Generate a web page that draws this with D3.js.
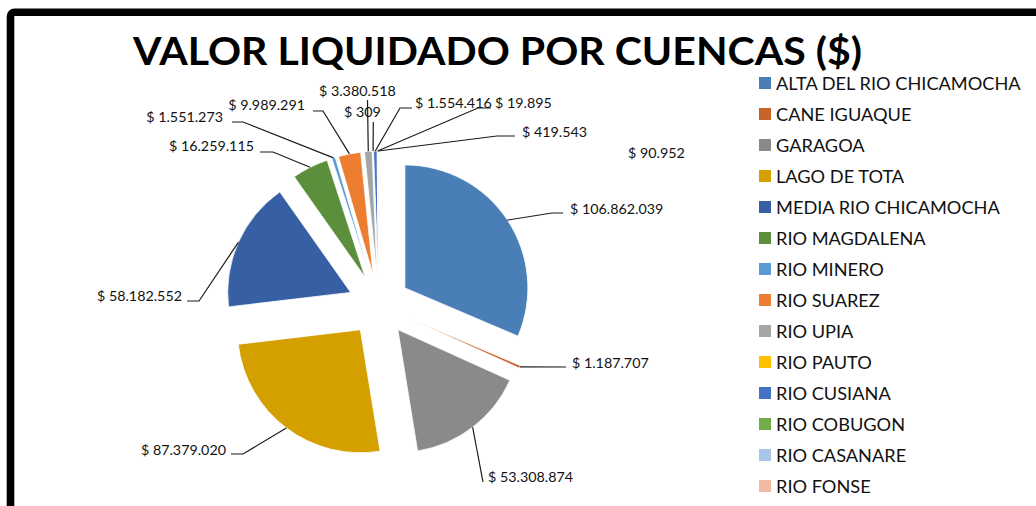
<!DOCTYPE html>
<html>
<head>
<meta charset="utf-8">
<script src="https://cdn.jsdelivr.net/npm/d3@7"></script>
<style>
  html, body { margin: 0; padding: 0; background: #fff; }
  svg { display: block; }
  text { font-family: Lato, "Open Sans", sans-serif; fill: #111; }
</style>
</head>
<body>
<svg id="chart" width="1036" height="506"></svg>
<script>
// ---- DATA ----
const categories = [
  "ALTA DEL RIO CHICAMOCHA", "CANE IGUAQUE", "GARAGOA", "LAGO DE TOTA",
  "MEDIA RIO CHICAMOCHA", "RIO MAGDALENA", "RIO MINERO", "RIO SUAREZ",
  "RIO UPIA", "RIO PAUTO", "RIO CUSIANA", "RIO COBUGON", "RIO CASANARE", "RIO FONSE"
];
const values = [
  106862039, 1187707, 53308874, 87379020,
  58182552, 16259115, 1551273, 9989291,
  3380518, 309, 1554416, 19895, 419543, 90952
];
const valueLabels = [
  "$ 106.862.039", "$ 1.187.707", "$ 53.308.874", "$ 87.379.020",
  "$ 58.182.552", "$ 16.259.115", "$ 1.551.273", "$ 9.989.291",
  "$ 3.380.518", "$ 309", "$ 1.554.416", "$ 19.895", "$ 419.543", "$ 90.952"
];
const title = "VALOR LIQUIDADO POR CUENCAS ($)";

// ---- STYLE / LAYOUT ----
const colors = [
  "#4A7EB6", "#C8642A", "#8A8A8A", "#D4A000",
  "#375FA3", "#5C8F3B", "#5B9BD5", "#ED7D31",
  "#A5A5A5", "#FFC000", "#4472C4", "#70AD47", "#A9C5E8", "#F4B9A2"
];
const cx = 379, cy = 305, R = 123, explode = 31;

// label placement (annotation layout): text anchor x, text mid y, anchor side, leader bend points
const labelLayout = [
  { x: 570, y: 209, a: "start", pts: [[552, 213], [563, 213]] },
  { x: 572, y: 363, a: "start", pts: [[566, 367]] },
  { x: 488, y: 477, a: "start", pts: [[483, 482]] },
  { x: 226, y: 450, a: "end",   pts: [[243, 454], [231, 454]] },
  { x: 182, y: 296, a: "end",   pts: [[199, 301], [187, 301]] },
  { x: 254, y: 146, a: "end",   pts: [[273, 152], [260, 152]] },
  { x: 223, y: 117, a: "end",   pts: [[243, 122], [232, 122]] },
  { x: 305, y: 105, a: "end",   pts: [[323, 111], [313, 111]] },
  { x: 319, y: 91,  a: "start", pts: [[367.5, 100]] },
  { x: 344, y: 112, a: "start", pts: [[373.3, 122]] },
  { x: 415, y: 103, a: "start", pts: [[400, 108], [412, 108]] },
  { x: 495, y: 103, a: "start", pts: [[478, 108], [491, 108]] },
  { x: 522, y: 132, a: "start", pts: [[497, 136], [515, 136]] },
  { x: 628, y: 153, a: "start", pts: [] }
];

const svg = d3.select("#chart");

// frame
svg.append("rect")
  .attr("x", 10.5).attr("y", 12.2)
  .attr("width", 1200).attr("height", 700)
  .attr("rx", 4)
  .attr("fill", "none").attr("stroke", "#000").attr("stroke-width", 7.6);

// title
svg.append("text")
  .attr("x", 497.5).attr("y", 65)
  .attr("text-anchor", "middle")
  .attr("textLength", 729).attr("lengthAdjust", "spacingAndGlyphs")
  .style("font-size", "38.5px").style("font-weight", 700)
  .style("fill", "#000")
  .text(title);

// pie
const pie = d3.pie().sort(null).value(d => d).startAngle(0).endAngle(2 * Math.PI);
const arcs = pie(values);
const arc = d3.arc().innerRadius(0).outerRadius(R);
const dir = d => { const m = (d.startAngle + d.endAngle) / 2; return [Math.sin(m), -Math.cos(m)]; };

const g = svg.append("g").attr("transform", `translate(${cx},${cy})`);
g.selectAll("path.slice").data(arcs).join("path")
  .attr("class", "slice")
  .attr("d", arc)
  .attr("transform", d => { const [ux, uy] = dir(d); return `translate(${ux * explode},${uy * explode})`; })
  .attr("fill", (d, i) => colors[i])
  .attr("stroke", "#fff").attr("stroke-width", 0.8);

// leader lines
const line = d3.line();
svg.append("g").selectAll("path.leader").data(arcs).join("path")
  .attr("class", "leader")
  .attr("d", (d, i) => {
    const L = labelLayout[i];
    if (!L.pts.length) return null;
    const [ux, uy] = dir(d);
    const start = [cx + ux * (explode + R), cy + uy * (explode + R)];
    return line([start, ...L.pts]);
  })
  .attr("fill", "none").attr("stroke", "#1a1a1a").attr("stroke-width", 1.2);

// data labels
const lblSize = 14.3;
svg.append("g").selectAll("text.lbl").data(arcs).join("text")
  .attr("class", "lbl")
  .attr("x", (d, i) => labelLayout[i].x)
  .attr("y", (d, i) => labelLayout[i].y + lblSize * 0.358)
  .attr("text-anchor", (d, i) => labelLayout[i].a)
  .style("font-size", lblSize + "px")
  .text((d, i) => valueLabels[i]);

// legend
const legY = d3.scalePoint().domain(categories).range([83, 486]);
const leg = svg.append("g").selectAll("g").data(categories).join("g")
  .attr("transform", d => `translate(759,${legY(d)})`);
leg.append("rect").attr("x", 0).attr("y", -6).attr("width", 12).attr("height", 12)
  .attr("fill", (d, i) => colors[i]);
const legSize = 18.2;
leg.append("text").attr("x", 17).attr("y", legSize * 0.36)
  .style("font-size", legSize + "px")
  .text(d => d);
</script>
</body>
</html>
